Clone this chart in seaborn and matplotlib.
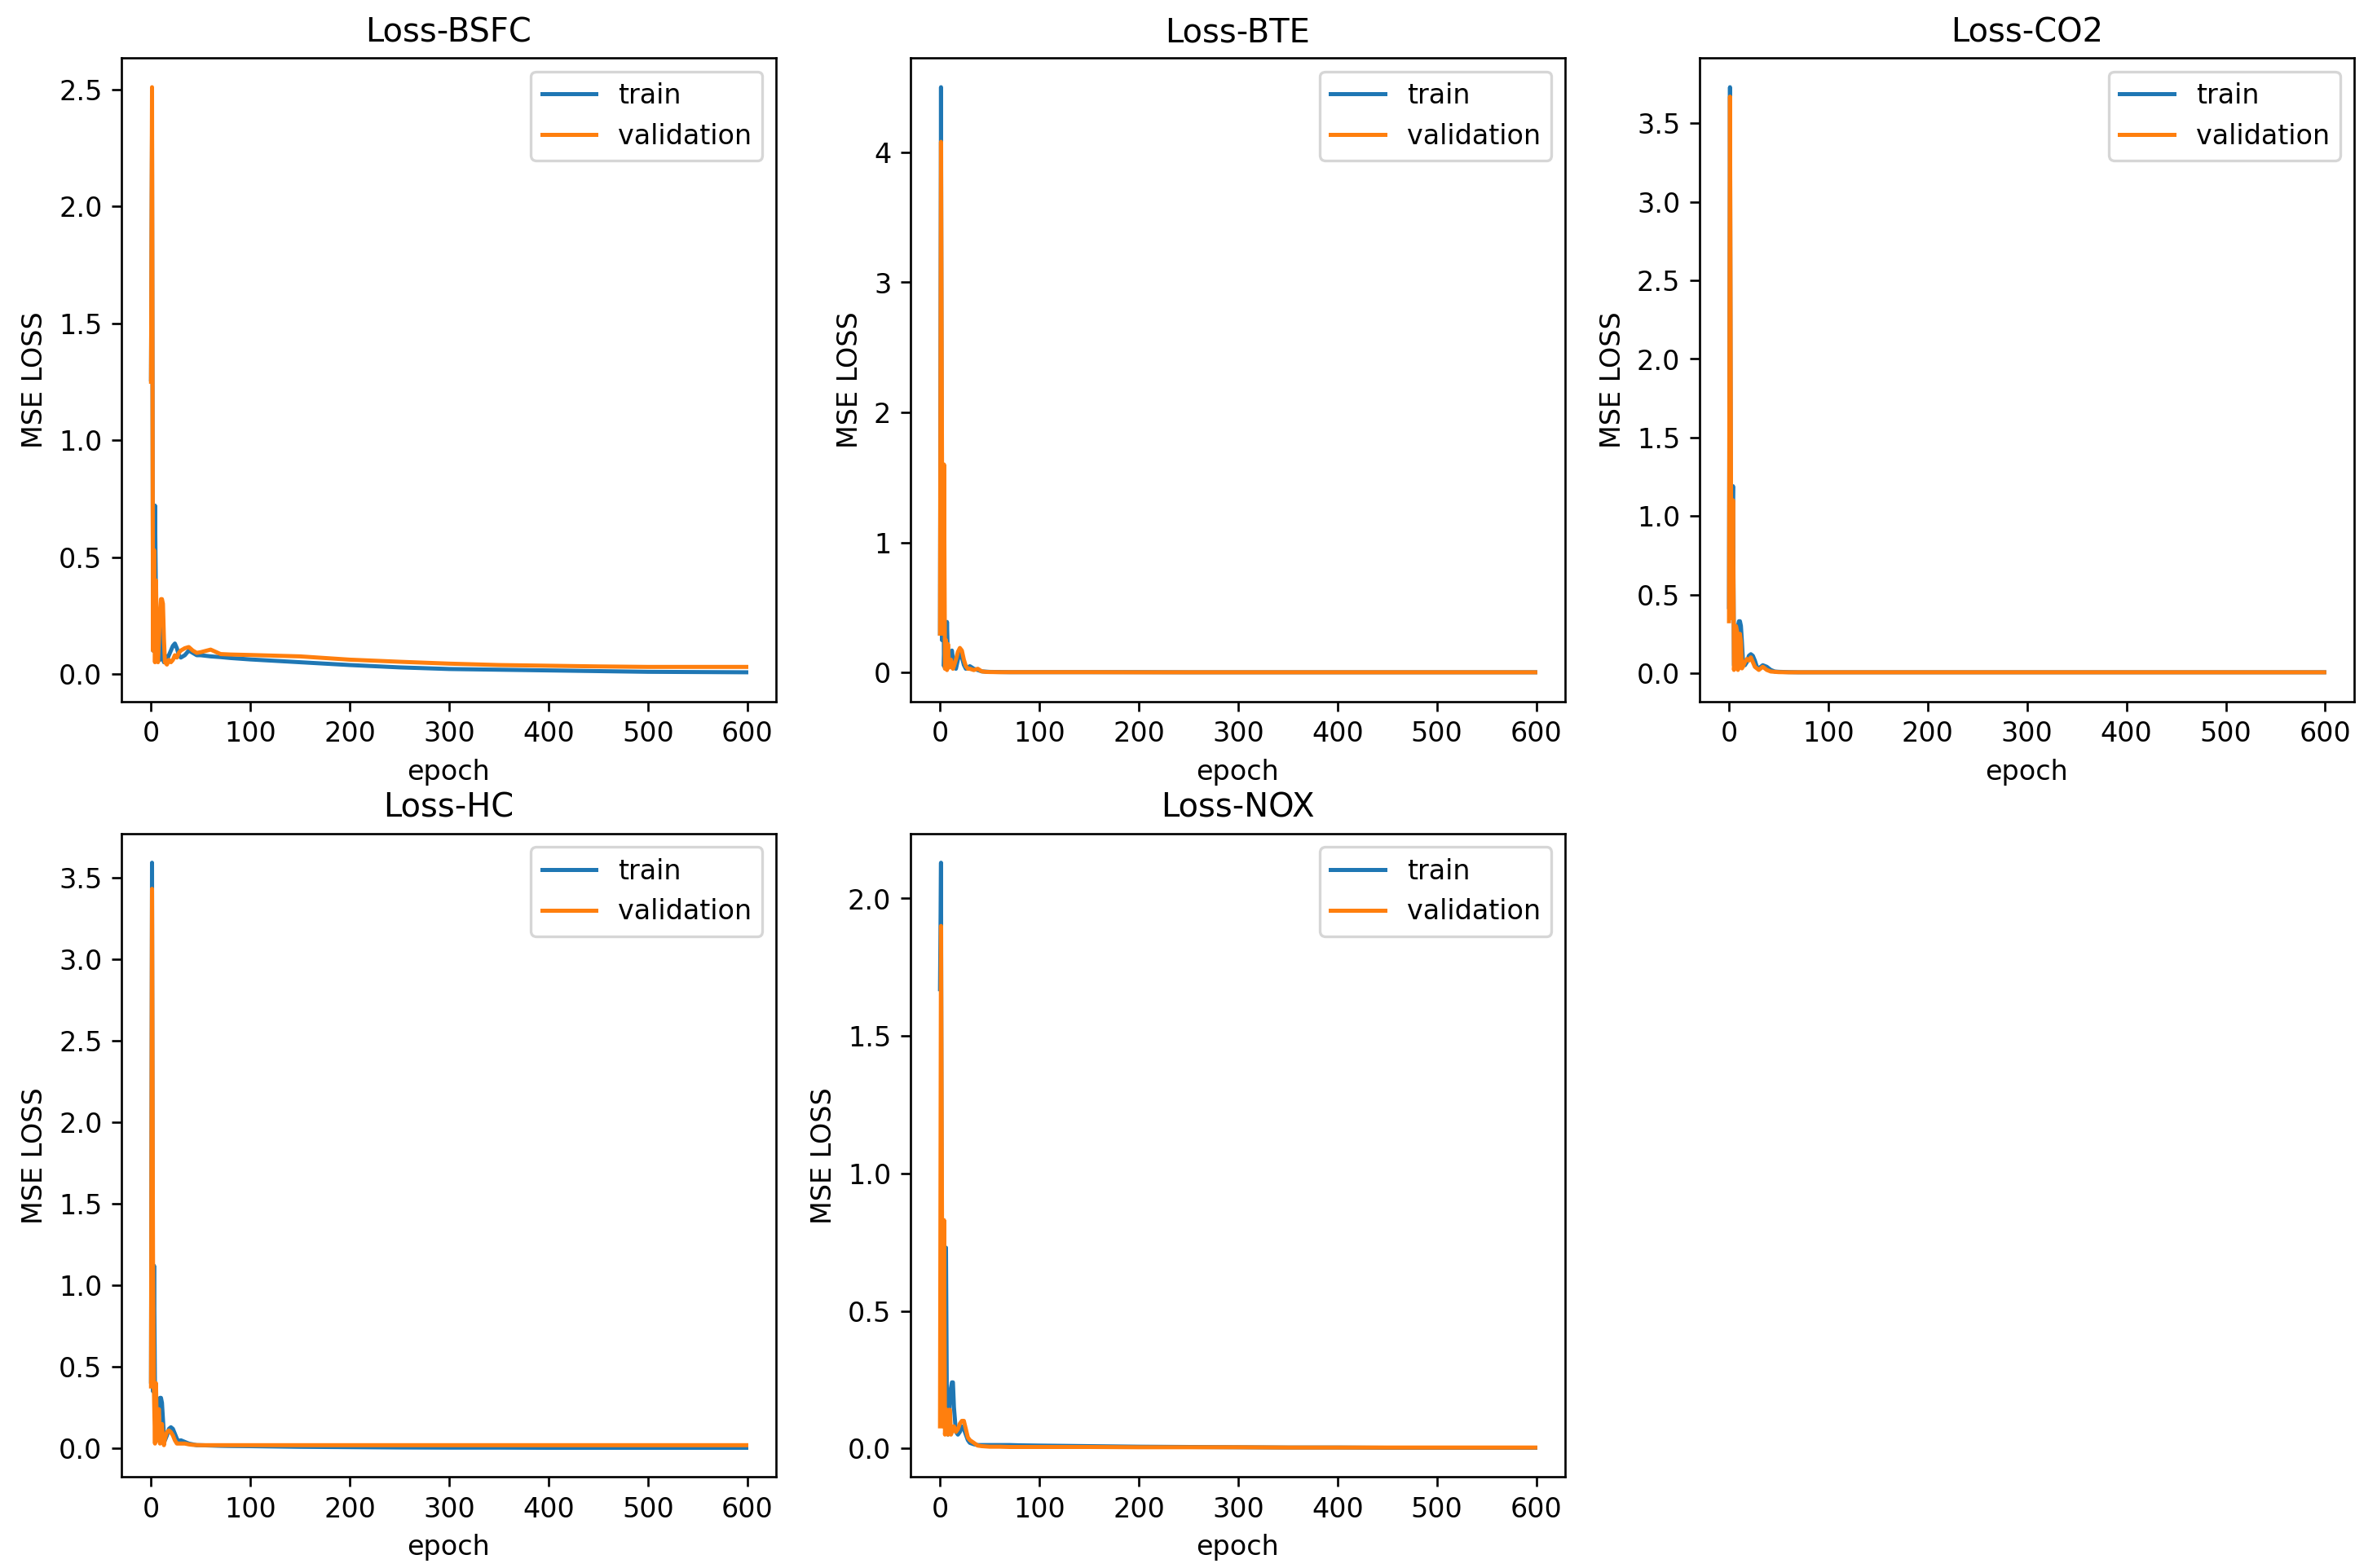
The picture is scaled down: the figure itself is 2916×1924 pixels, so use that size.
import numpy as np
import pandas as pd
import matplotlib
matplotlib.use('Agg')
import matplotlib.pyplot as plt
import seaborn as sns

epochs = [0, 1, 2, 3, 4, 5, 6, 7, 8, 9, 10, 11, 12, 13, 14, 16, 18, 20, 22, 24, 26, 28, 30,
          34, 38, 42, 46, 50, 60, 70, 80, 100, 150, 200, 250, 300, 350, 400, 450, 500, 550, 599]

titles = ['Loss-BSFC', 'Loss-BTE', 'Loss-CO2', 'Loss-HC', 'Loss-NOX']

bsfc_train = [1.26, 2.30, 0.10, 0.35, 0.72, 0.30, 0.10, 0.22, 0.12, 0.06, 0.12, 0.20, 0.10, 0.05,
              0.08, 0.06, 0.08, 0.10, 0.12, 0.13, 0.11, 0.08, 0.07, 0.08, 0.10, 0.09, 0.08, 0.08,
              0.075, 0.072, 0.068, 0.062, 0.050, 0.038, 0.028, 0.021, 0.018, 0.015, 0.012, 0.009,
              0.008, 0.007]
bsfc_val = [1.25, 2.51, 0.10, 0.53, 0.05, 0.40, 0.08, 0.05, 0.15, 0.25, 0.32, 0.32, 0.30, 0.15,
            0.05, 0.04, 0.06, 0.05, 0.06, 0.08, 0.07, 0.09, 0.10, 0.11, 0.115, 0.10, 0.09, 0.093,
            0.104, 0.085, 0.083, 0.081, 0.075, 0.061, 0.052, 0.044, 0.038, 0.035, 0.032, 0.030,
            0.030, 0.030]

bte_train = [0.30, 4.50, 0.25, 1.38, 0.05, 0.30, 0.05, 0.39, 0.10, 0.05, 0.12, 0.15, 0.17, 0.10,
             0.06, 0.03, 0.10, 0.15, 0.12, 0.06, 0.03, 0.04, 0.05, 0.03, 0.02, 0.01, 0.008, 0.006,
             0.005, 0.004, 0.004, 0.004, 0.004, 0.004, 0.003, 0.003, 0.003, 0.003, 0.003, 0.003,
             0.003, 0.003]
bte_val = [0.30, 4.08, 1.63, 0.30, 1.60, 0.03, 0.25, 0.02, 0.22, 0.04, 0.05, 0.10, 0.04, 0.03,
           0.05, 0.10, 0.16, 0.19, 0.17, 0.10, 0.05, 0.03, 0.03, 0.02, 0.03, 0.01, 0.006, 0.005,
           0.004, 0.004, 0.004, 0.004, 0.004, 0.003, 0.003, 0.003, 0.003, 0.003, 0.003, 0.003,
           0.003, 0.003]

co2_train = [0.42, 3.73, 0.45, 0.80, 1.19, 0.05, 0.03, 0.10, 0.20, 0.30, 0.33, 0.33, 0.30, 0.20,
             0.08, 0.05, 0.07, 0.11, 0.12, 0.11, 0.08, 0.04, 0.03, 0.05, 0.04, 0.02, 0.01, 0.008,
             0.006, 0.005, 0.005, 0.005, 0.005, 0.005, 0.005, 0.005, 0.005, 0.005, 0.005, 0.005,
             0.005, 0.005]
co2_val = [0.33, 3.67, 1.20, 0.35, 1.10, 0.02, 0.10, 0.30, 0.27, 0.02, 0.05, 0.25, 0.20, 0.03,
           0.04, 0.07, 0.09, 0.08, 0.10, 0.07, 0.04, 0.03, 0.02, 0.04, 0.02, 0.01, 0.008, 0.006,
           0.005, 0.005, 0.005, 0.005, 0.005, 0.005, 0.005, 0.005, 0.005, 0.005, 0.005, 0.005,
           0.005, 0.005]

hc_train = [0.41, 3.59, 0.35, 1.12, 0.33, 0.10, 0.05, 0.15, 0.25, 0.31, 0.31, 0.28, 0.18, 0.08,
            0.05, 0.08, 0.12, 0.13, 0.12, 0.09, 0.06, 0.04, 0.05, 0.04, 0.03, 0.025, 0.02, 0.02,
            0.018, 0.016, 0.015, 0.014, 0.010, 0.008, 0.006, 0.005, 0.005, 0.004, 0.004, 0.004,
            0.004, 0.004]
hc_val = [0.38, 3.43, 1.15, 0.33, 0.03, 0.40, 0.05, 0.24, 0.24, 0.03, 0.10, 0.15, 0.05, 0.02,
          0.06, 0.10, 0.11, 0.10, 0.08, 0.05, 0.03, 0.03, 0.03, 0.03, 0.025, 0.022, 0.021, 0.02,
          0.02, 0.02, 0.02, 0.02, 0.02, 0.02, 0.02, 0.02, 0.02, 0.02, 0.02, 0.02, 0.02, 0.02]

nox_train = [1.67, 2.13, 0.10, 0.50, 0.08, 0.60, 0.73, 0.10, 0.05, 0.10, 0.18, 0.22, 0.24, 0.24,
             0.15, 0.06, 0.05, 0.06, 0.08, 0.07, 0.05, 0.03, 0.02, 0.015, 0.012, 0.012, 0.012,
             0.012, 0.012, 0.012, 0.011, 0.010, 0.008, 0.006, 0.005, 0.004, 0.003, 0.003, 0.002,
             0.002, 0.002, 0.002]
nox_val = [0.08, 1.90, 0.83, 0.08, 0.83, 0.05, 0.10, 0.14, 0.05, 0.14, 0.14, 0.05, 0.06, 0.07,
           0.08, 0.06, 0.07, 0.09, 0.10, 0.10, 0.07, 0.04, 0.03, 0.02, 0.01, 0.008, 0.007, 0.006,
           0.006, 0.005, 0.005, 0.005, 0.005, 0.004, 0.004, 0.004, 0.003, 0.003, 0.003, 0.003,
           0.003, 0.003]

train_all = [bsfc_train, bte_train, co2_train, hc_train, nox_train]
val_all = [bsfc_val, bte_val, co2_val, hc_val, nox_val]

fig, axes = plt.subplots(2, 3, figsize=(12.154, 8.017))
fig.subplots_adjust(left=0.051, right=0.990, top=0.963, bottom=0.058, wspace=0.205, hspace=0.205)

for i, ax in enumerate(axes.flat):
    if i >= len(titles):
        ax.axis('off')
        continue
    df = pd.DataFrame({'epoch': epochs, 'train': train_all[i], 'validation': val_all[i]})
    sns.lineplot(data=df, x='epoch', y='train', ax=ax, color='#1f77b4', label='train', linewidth=1.5)
    sns.lineplot(data=df, x='epoch', y='validation', ax=ax, color='#ff7f0e', label='validation', linewidth=1.5)
    ax.set_title(titles[i])
    ax.set_xlabel('epoch')
    ax.set_ylabel('MSE LOSS')
    ax.set_xticks([0, 100, 200, 300, 400, 500, 600])
    ax.legend(loc='upper right')

fig.savefig('out.png', dpi=240)
